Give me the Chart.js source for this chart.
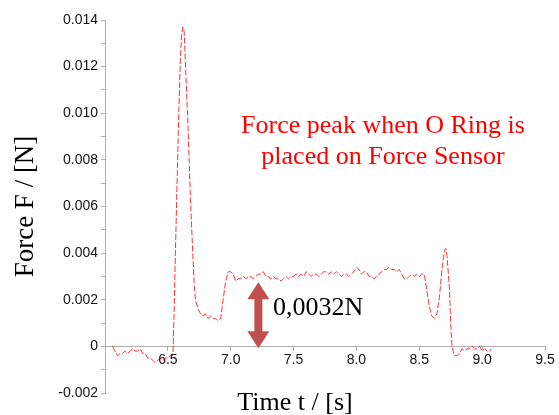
<!DOCTYPE html>
<html>
<head>
<meta charset="utf-8">
<script src="https://cdn.jsdelivr.net/npm/chart.js@4.4.1/dist/chart.umd.min.js"></script>
<style>
  html, body { margin: 0; padding: 0; background: #fff; }
  #wrap { width: 559px; height: 415px; position: relative; }
</style>
</head>
<body>
<div id="wrap"><canvas id="forceChart"></canvas></div>
<script>
// time in s, force in N
const timeS = [
  6.06, 6.08, 6.10, 6.12, 6.14, 6.16, 6.18, 6.20, 6.22, 6.24, 6.26, 6.28, 6.30, 6.32, 6.34, 6.36, 6.38, 6.40,
  6.42, 6.44, 6.46, 6.48, 6.50, 6.52, 6.54, 6.55, 6.56, 6.57, 6.58, 6.59, 6.60, 6.61, 6.62, 6.63, 6.64, 6.65,
  6.66, 6.67, 6.68, 6.69, 6.70, 6.71, 6.72, 6.74, 6.76, 6.78, 6.80, 6.82, 6.84, 6.86, 6.88, 6.90, 6.92, 6.94,
  6.96, 6.98, 7.00, 7.02, 7.04, 7.06, 7.08, 7.10, 7.12, 7.14, 7.16, 7.18, 7.20, 7.22, 7.24, 7.26, 7.28, 7.30,
  7.32, 7.34, 7.36, 7.38, 7.40, 7.42, 7.44, 7.46, 7.48, 7.50, 7.52, 7.54, 7.56, 7.58, 7.60, 7.62, 7.64, 7.66,
  7.68, 7.70, 7.72, 7.74, 7.76, 7.78, 7.80, 7.82, 7.84, 7.86, 7.88, 7.90, 7.92, 7.94, 7.96, 7.98, 8.00, 8.02,
  8.04, 8.06, 8.08, 8.10, 8.12, 8.14, 8.16, 8.18, 8.20, 8.22, 8.24, 8.26, 8.28, 8.30, 8.32, 8.34, 8.36, 8.38,
  8.40, 8.42, 8.44, 8.46, 8.48, 8.50, 8.52, 8.54, 8.56, 8.58, 8.60, 8.62, 8.64, 8.66, 8.68, 8.70, 8.71, 8.72,
  8.74, 8.75, 8.76, 8.78, 8.80, 8.82, 8.84, 8.86, 8.88, 8.90, 8.92, 8.94, 8.96, 8.98, 9.00, 9.02, 9.04, 9.06,
  9.07
];
const forceN = [
  0.0000, -0.0002, -0.0004, -0.0003, -0.0003, -0.0002, -0.0003, -0.0002, -0.0001, -0.0002, -0.0002, -0.0001, -0.0003, -0.0003, -0.0005, -0.0005, -0.0006, -0.0007,
  -0.0006, -0.0005, -0.0006, -0.0005, -0.0005, -0.0004, -0.0004, 0.0015, 0.0040, 0.0063, 0.0085, 0.0106, 0.0124, 0.0134, 0.0137, 0.0135, 0.0121, 0.0108,
  0.0095, 0.0079, 0.0063, 0.0050, 0.0038, 0.0026, 0.0020, 0.0016, 0.0014, 0.0013, 0.0014, 0.0012, 0.0013, 0.0012, 0.0012, 0.0011, 0.0012, 0.0020,
  0.0028, 0.0032, 0.0032, 0.0031, 0.0028, 0.0029, 0.0029, 0.0030, 0.0029, 0.0030, 0.0030, 0.0029, 0.0030, 0.0031, 0.0031, 0.0032, 0.0030, 0.0030,
  0.0029, 0.0030, 0.0029, 0.0029, 0.0028, 0.0029, 0.0030, 0.0029, 0.0030, 0.0030, 0.0031, 0.0030, 0.0031, 0.0030, 0.0032, 0.0031, 0.0030, 0.0031,
  0.0031, 0.0030, 0.0031, 0.0032, 0.0032, 0.0031, 0.0032, 0.0031, 0.0032, 0.0031, 0.0030, 0.0031, 0.0031, 0.0030, 0.0031, 0.0032, 0.0034, 0.0033,
  0.0031, 0.0032, 0.0032, 0.0030, 0.0030, 0.0029, 0.0030, 0.0031, 0.0032, 0.0033, 0.0033, 0.0034, 0.0033, 0.0033, 0.0032, 0.0033, 0.0031, 0.0029,
  0.0029, 0.0030, 0.0031, 0.0030, 0.0031, 0.0030, 0.0031, 0.0031, 0.0024, 0.0017, 0.0013, 0.0012, 0.0014, 0.0021, 0.0033, 0.0041, 0.0042, 0.0039,
  0.0025, 0.0010, 0.0000, -0.0004, -0.0004, -0.0003, -0.0001, -0.0002, -0.0001, -0.0001, 0.0000, -0.0001, -0.0001, 0.0000, -0.0002, -0.0001, -0.0002, -0.0002,
  -0.0001
];

// axis ranges / tick labels
const xRange = [6.0, 9.5];
const yRange = [-0.002, 0.014];
const noteLines = ["Force peak when O Ring is", "placed on Force Sensor"];
const gapLabel = "0,0032N";
const gapArrow = { t: 7.22, from: -0.00008, to: 0.00275 };

const serif = '"Liberation Serif", "Times New Roman", serif';

// draws the red note, the double arrow and the x title
const notesPlugin = {
  id: "notes",
  afterDraw(chart) {
    const c = chart.ctx;
    const xs = chart.scales.x, ys = chart.scales.y;
    c.save();

    c.fillStyle = "#ff0000";
    c.font = "26px " + serif;
    c.textAlign = "center";
    c.textBaseline = "alphabetic";
    c.fillText(noteLines[0], 383, 133);
    c.fillText(noteLines[1], 383, 164);

    // double headed arrow
    const ax = xs.getPixelForValue(gapArrow.t);
    const top = ys.getPixelForValue(gapArrow.to);
    const bot = ys.getPixelForValue(gapArrow.from);
    const head = 17, hw = 11, sw = 4;
    c.fillStyle = "#c0504d";
    c.beginPath();
    c.moveTo(ax, top);
    c.lineTo(ax + hw, top + head);
    c.lineTo(ax + sw, top + head);
    c.lineTo(ax + sw, bot - head);
    c.lineTo(ax + hw, bot - head);
    c.lineTo(ax, bot);
    c.lineTo(ax - hw, bot - head);
    c.lineTo(ax - sw, bot - head);
    c.lineTo(ax - sw, top + head);
    c.lineTo(ax - hw, top + head);
    c.closePath();
    c.fill();

    c.fillStyle = "#000";
    c.font = "26px " + serif;
    c.textAlign = "left";
    c.fillText(gapLabel, 273, 315);

    c.font = "26px " + serif;
    c.textAlign = "center";
    c.fillText("Time t / [s]", 295, 410);
    c.restore();
  }
};

const ctx = document.getElementById("forceChart").getContext("2d");
new Chart(ctx, {
  type: "scatter",
  data: {
    datasets: [{
      label: "Force",
      data: timeS.map((t, i) => ({ x: t, y: forceN[i] })),
      showLine: true,
      borderColor: "rgba(255, 0, 0, 0.8)",
      borderWidth: 1,
      borderDash: [6, 2],
      pointRadius: 0,
      tension: 0,
    }],
  },
  options: {
    responsive: true,
    maintainAspectRatio: false,
    animation: false,
    layout: { padding: { top: 20, right: 14, bottom: 22, left: 0 } },
    plugins: {
      legend: { display: false },
      tooltip: { enabled: false },
    },
    scales: {
      x: {
        type: "linear",
        position: { y: 0 },
        min: xRange[0],
        max: xRange[1],
        grid: { drawOnChartArea: false, drawTicks: true, tickLength: 4, color: "#b0b0b0" },
        border: { color: "#b0b0b0" },
        ticks: {
          stepSize: 0.5,
          padding: 1,
          color: "#111",
          font: { family: '"Liberation Sans", Arial, sans-serif', size: 14 },
          maxRotation: 0,
          callback: (v) => (v < 6.25 ? "" : v.toFixed(1)),
        },
      },
      y: {
        min: yRange[0],
        max: yRange[1],
        afterFit: (scale) => { scale.width = 105; },
        grid: { drawOnChartArea: false, drawTicks: true, tickLength: 4, color: "#b0b0b0" },
        border: { color: "#b0b0b0" },
        ticks: {
          stepSize: 0.001,
          padding: 3,
          color: "#111",
          font: { family: '"Liberation Sans", Arial, sans-serif', size: 14 },
          callback: (v) => {
            const k = Math.round(v * 1000);
            if (k % 2 !== 0) return "";
            return k === 0 ? "0" : (k / 1000).toFixed(3);
          },
        },
        title: {
          display: true,
          text: "Force F / [N]",
          color: "#000",
          font: { family: serif, size: 27 },
          padding: { top: 10, bottom: 0 },
        },
      },
    },
  },
  plugins: [notesPlugin],
});
</script>
</body>
</html>
